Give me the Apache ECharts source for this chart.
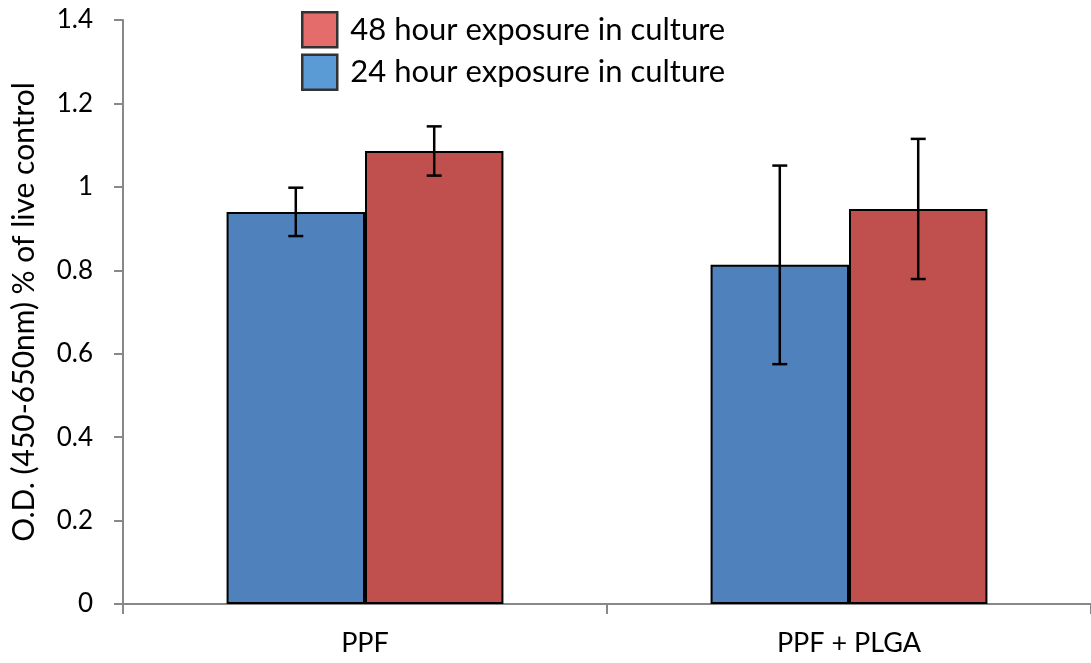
<!DOCTYPE html>
<html>
<head>
<meta charset="utf-8">
<script src="https://cdn.jsdelivr.net/npm/echarts@6/dist/echarts.min.js"></script>
<style>
  html, body { margin: 0; padding: 0; background: #fff; }
  #chart { width: 1091px; height: 663px; }
</style>
</head>
<body>
<div id="chart"></div>
<script>
// Cell viability by material and exposure time
var categories = ['PPF', 'PPF + PLGA'];
var seriesNames = ['24 hour exposure in culture', '48 hour exposure in culture'];
var values24 = [0.940, 0.813];
var errors24 = [0.058, 0.238];
var values48 = [1.086, 0.947];
var errors48 = [0.059, 0.168];
var yTicks = { min: 0, max: 1.4, interval: 0.2 };

var FONT = 'Lato, "Open Sans", sans-serif';
var BAR_BLUE = '#4F81BD';
var BAR_RED = '#C0504D';

// Width of one bar as a fraction of the category band
var BAR_FRAC = 0.286;

function errorSeries(name, vals, errs, side) {
  var data = vals.map(function (v, i) { return [i, v, errs[i]]; });
  return {
    type: 'custom',
    name: name + ' error',
    z: 10,
    silent: true,
    data: data,
    encode: { x: 0, y: 1 },
    renderItem: function (params, api) {
      var idx = api.value(0);
      var v = api.value(1);
      var e = api.value(2);
      var band = api.size([1, 0])[0];
      var center = api.coord([idx, v]);
      var x = center[0] + side * band * BAR_FRAC / 2;
      var top = api.coord([idx, v + e])[1];
      var bot = api.coord([idx, v - e])[1];
      var cap = 7.5;
      var style = { stroke: '#000', lineWidth: 2.5 };
      return {
        type: 'group',
        children: [
          { type: 'line', shape: { x1: x, y1: top, x2: x, y2: bot }, style: style },
          { type: 'line', shape: { x1: x - cap, y1: top, x2: x + cap, y2: top }, style: style },
          { type: 'line', shape: { x1: x - cap, y1: bot, x2: x + cap, y2: bot }, style: style }
        ]
      };
    }
  };
}

var chart = echarts.init(document.getElementById('chart'), null, { renderer: 'canvas' });
chart.setOption({
  animation: false,
  backgroundColor: '#fff',
  grid: { left: 123, top: 20, width: 972, bottom: 59, containLabel: false },
  legend: {
    orient: 'vertical',
    left: 296,
    top: 6,
    itemWidth: 35,
    itemHeight: 35,
    itemGap: 5,
    icon: 'rect',
    textStyle: { fontFamily: FONT, fontSize: 31, color: '#000', padding: [0, 0, 0, 8] },
    data: [
      { name: seriesNames[1], itemStyle: { color: '#E46C6A', borderColor: '#333', borderWidth: 2.5 } },
      { name: seriesNames[0], itemStyle: { color: '#5B9BD5', borderColor: '#333', borderWidth: 2.5 } }
    ]
  },
  xAxis: {
    type: 'category',
    data: categories,
    axisLine: { lineStyle: { color: '#888', width: 2 } },
    axisTick: { show: true, alignWithLabel: false, length: 10, lineStyle: { color: '#888', width: 2 } },
    axisLabel: { fontFamily: FONT, fontSize: 27, color: '#000', margin: 26 }
  },
  yAxis: {
    type: 'value',
    min: yTicks.min,
    max: yTicks.max,
    interval: yTicks.interval,
    name: 'O.D. (450-650nm) % of live control',
    nameLocation: 'middle',
    nameGap: 84,
    nameTextStyle: { fontFamily: FONT, fontSize: 30, color: '#000' },
    axisLine: { show: true, lineStyle: { color: '#888', width: 2 } },
    axisTick: { show: true, length: 9, lineStyle: { color: '#888', width: 2 } },
    splitLine: { show: false },
    axisLabel: {
      fontFamily: FONT, fontSize: 26, color: '#000', margin: 30,
      formatter: function (v) { return String(Math.round(v * 10) / 10); }
    }
  },
  series: [
    {
      type: 'bar',
      name: seriesNames[0],
      data: values24,
      barGap: '0%',
      barCategoryGap: '42.8%',
      itemStyle: { color: BAR_BLUE, borderColor: '#000', borderWidth: 2 }
    },
    {
      type: 'bar',
      name: seriesNames[1],
      data: values48,
      barGap: '0%',
      barCategoryGap: '42.8%',
      itemStyle: { color: BAR_RED, borderColor: '#000', borderWidth: 2 }
    },
    errorSeries(seriesNames[0], values24, errors24, -1),
    errorSeries(seriesNames[1], values48, errors48, 1)
  ]
});
</script>
</body>
</html>
